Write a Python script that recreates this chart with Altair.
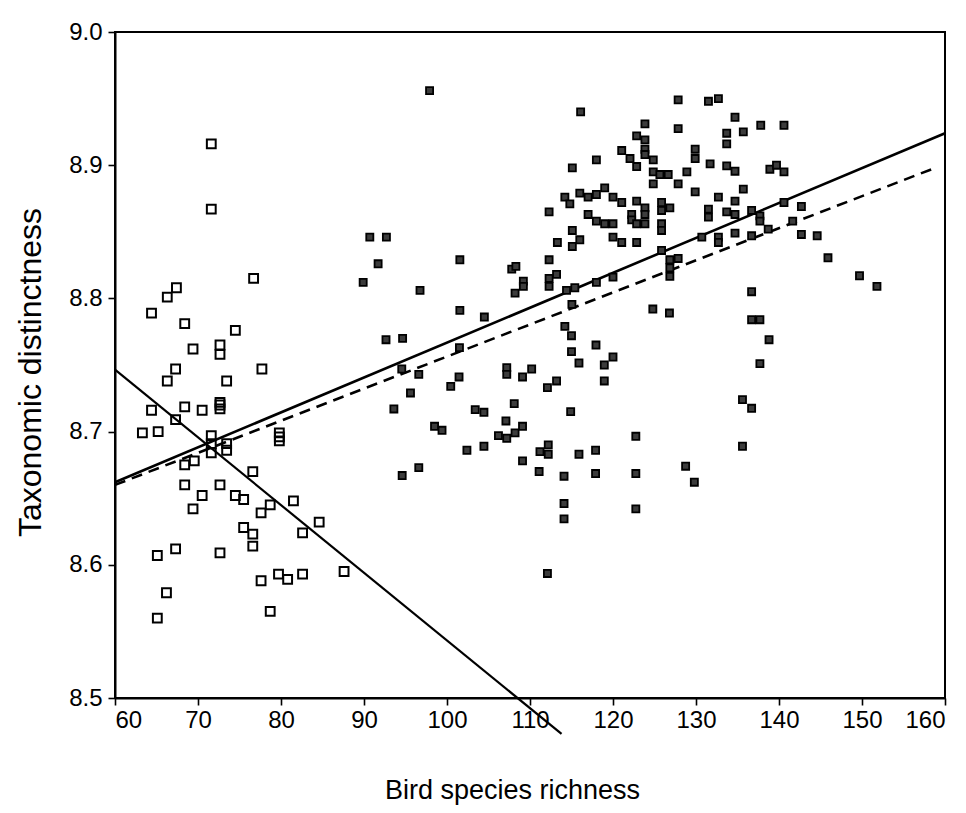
import altair as alt
import pandas as pd

# ---- open squares (low-richness group) ----
open_x = [76.7, 67.4, 66.3, 64.4, 68.4, 74.5, 69.4, 72.65, 72.65, 67.3, 77.7, 66.3, 73.45,
          64.4, 68.4, 70.5, 72.65, 72.65, 72.65, 67.3, 63.3, 65.2, 71.6, 71.6, 71.6, 73.45,
          73.45, 79.8, 79.8, 79.8, 69.55, 68.4, 76.6, 68.4, 72.65, 70.5, 74.5, 75.5, 69.4,
          78.7, 77.6, 81.5, 84.6, 75.5, 76.6, 82.6, 76.6, 67.3, 65.1, 72.65, 87.6, 77.6,
          79.7, 80.8, 82.6, 66.2, 65.1, 78.7, 71.6, 71.6]
open_y = [8.815, 8.808, 8.801, 8.789, 8.781, 8.776, 8.762, 8.765, 8.758, 8.747, 8.747, 8.738, 8.738,
          8.716, 8.7185, 8.716, 8.722, 8.720, 8.717, 8.709, 8.699, 8.700, 8.697, 8.691, 8.684, 8.691,
          8.686, 8.699, 8.696, 8.693, 8.678, 8.675, 8.670, 8.660, 8.660, 8.652, 8.652, 8.649, 8.642,
          8.645, 8.639, 8.648, 8.632, 8.628, 8.623, 8.624, 8.614, 8.612, 8.607, 8.609, 8.595, 8.588,
          8.593, 8.589, 8.593, 8.579, 8.560, 8.565, 8.916, 8.867]

# ---- filled squares (high-richness group) ----
filled_x = [89.9, 90.7, 92.7, 91.7, 92.65, 94.65, 94.55, 93.6, 94.6, 96.75, 95.6, 96.6, 96.6,
            97.9, 98.5, 99.4, 100.45, 101.45, 101.55, 101.55, 101.5, 102.4, 103.4, 104.45, 104.45,
            104.5, 106.2, 107.2, 108.2, 107.1, 107.2, 107.2, 108.1, 107.8, 108.3, 108.2, 109.2,
            109.2, 109.1, 109.1, 109.1, 110.2, 111.1, 111.2, 112.2, 112.2, 112.1, 113.2, 112.1,
            112.3, 112.3, 112.3, 112.3, 113.2, 113.3, 114.2, 114.8, 116.0, 117.0, 115.1, 116.1,
            115.1, 116.0, 115.1, 114.4, 115.4, 115.05, 114.2, 115.0, 115.0, 115.9, 114.9, 115.9,
            114.1, 114.1, 114.1, 117.0, 118.0, 118.0, 119.0, 120.0, 121.05, 118.0, 119.0, 120.0,
            120.0, 121.05, 118.0, 120.0, 117.95, 120.0, 118.95, 118.95, 117.9, 117.9, 121.05,
            122.05, 122.85, 122.85, 122.85, 122.25, 122.25, 122.85, 122.85, 122.75, 122.75, 122.75,
            123.85, 123.85, 123.85, 123.85, 123.85, 123.85, 123.85, 124.85, 124.85, 124.85, 125.65,
            126.65, 127.85, 125.85, 126.85, 125.85, 125.85, 125.85, 125.85, 126.85, 127.85, 126.85,
            126.85, 124.8, 126.8, 127.85, 127.85, 128.9, 128.75, 129.8, 129.9, 129.9, 129.9, 130.7,
            131.5, 132.7, 131.7, 131.5, 131.5, 132.7, 132.7, 132.7, 133.7, 133.7, 133.7, 133.7,
            134.7, 134.7, 134.7, 134.7, 134.7, 135.7, 135.7, 136.7, 137.7, 137.7, 136.7, 135.6,
            136.7, 135.6, 136.7, 136.7, 137.7, 137.7, 138.8, 137.8, 138.7, 138.9, 139.7, 140.6,
            140.6, 140.6, 141.65, 142.7, 142.7, 144.6, 145.9, 149.7, 151.8]
filled_y = [8.812, 8.846, 8.846, 8.826, 8.769, 8.770, 8.747, 8.717, 8.667, 8.806, 8.729, 8.743, 8.673,
            8.956, 8.704, 8.701, 8.734, 8.741, 8.829, 8.791, 8.763, 8.686, 8.7165, 8.7145, 8.689,
            8.786, 8.697, 8.695, 8.699, 8.708, 8.748, 8.743, 8.721, 8.822, 8.824, 8.804, 8.813,
            8.809, 8.741, 8.704, 8.678, 8.747, 8.670, 8.685, 8.690, 8.683, 8.733, 8.738, 8.5935,
            8.865, 8.829, 8.815, 8.809, 8.818, 8.842, 8.876, 8.871, 8.879, 8.876, 8.898, 8.940,
            8.851, 8.844, 8.839, 8.806, 8.808, 8.7955, 8.779, 8.772, 8.760, 8.7515, 8.715, 8.683,
            8.6665, 8.646, 8.6345, 8.863, 8.904, 8.878, 8.883, 8.876, 8.872, 8.858, 8.856, 8.856,
            8.846, 8.842, 8.812, 8.816, 8.765, 8.756, 8.750, 8.738, 8.686, 8.6685, 8.911,
            8.905, 8.899, 8.922, 8.873, 8.863, 8.859, 8.856, 8.842, 8.6965, 8.6685, 8.642,
            8.931, 8.919, 8.912, 8.908, 8.868, 8.863, 8.856, 8.904, 8.895, 8.886, 8.893,
            8.893, 8.886, 8.872, 8.868, 8.866, 8.856, 8.851, 8.836, 8.829, 8.830, 8.823,
            8.8165, 8.792, 8.789, 8.949, 8.9275, 8.895, 8.674, 8.662, 8.912, 8.905, 8.880, 8.846,
            8.948, 8.950, 8.901, 8.867, 8.861, 8.876, 8.846, 8.842, 8.924, 8.916, 8.8995, 8.865,
            8.936, 8.8955, 8.873, 8.863, 8.849, 8.925, 8.882, 8.866, 8.862, 8.858, 8.847, 8.724,
            8.7175, 8.689, 8.805, 8.784, 8.784, 8.751, 8.769, 8.930, 8.852, 8.897, 8.900, 8.895,
            8.930, 8.872, 8.858, 8.869, 8.848, 8.847, 8.8305, 8.817, 8.809]

# ---- fitted lines: end points ----
all_line_x = [60, 160]
all_line_y = [8.662, 8.924]
dash_line_x = [60, 158.4]
dash_line_y = [8.660, 8.897]
open_line_x = [60, 113.8]
open_line_y = [8.7465, 8.473]

x_ticks = [60, 70, 80, 90, 100, 110, 120, 130, 140, 150, 160]
y_ticks = [8.5, 8.6, 8.7, 8.8, 8.9, 9.0]

FONT = "Liberation Sans"

df_open = pd.DataFrame({"x": open_x, "y": open_y})
df_filled = pd.DataFrame({"x": filled_x, "y": filled_y})
df_all = pd.DataFrame({"x": all_line_x, "y": all_line_y})
df_dash = pd.DataFrame({"x": dash_line_x, "y": dash_line_y})
df_oline = pd.DataFrame({"x": open_line_x, "y": open_line_y})

xs = alt.Scale(domain=[60, 160], nice=False, zero=False)
ys = alt.Scale(domain=[8.5, 9.0], nice=False, zero=False)

x_axis = alt.Axis(title="Bird species richness", values=x_ticks, format="d",
                  titleX=397, titleY=92, titleAlign="center", titleBaseline="middle",
                  titleFontSize=27, titleFontWeight="normal", labelFontSize=24,
                  tickSize=7, labelPadding=3)
y_axis = alt.Axis(title="Taxonomic distinctness", values=y_ticks, format=".1f",
                  titleX=-85, titleY=340, titleAngle=270, titleAlign="center",
                  titleBaseline="middle", titleFontSize=32, titleFontWeight="normal",
                  labelFontSize=24, tickSize=7, labelPadding=6)

X = alt.X("x:Q", scale=xs, axis=x_axis)
Y = alt.Y("y:Q", scale=ys, axis=y_axis)

line_all = alt.Chart(df_all).mark_line(color="black", strokeWidth=2.6, clip=False).encode(x=X, y=Y)
line_dash = alt.Chart(df_dash).mark_line(color="black", strokeWidth=2.6, strokeDash=[11, 7],
                                         clip=False).encode(x=X, y=Y)
line_open = alt.Chart(df_oline).mark_line(color="black", strokeWidth=2.2, clip=False).encode(x=X, y=Y)

pts_open = alt.Chart(df_open).mark_point(shape="square", filled=False, stroke="black",
                                         strokeWidth=2, size=78, opacity=1).encode(x=X, y=Y)
pts_filled = alt.Chart(df_filled).mark_point(shape="square", filled=True, fill="#3c3c3c",
                                             stroke="#000000", strokeWidth=1.8, size=50,
                                             opacity=1).encode(x=X, y=Y)

chart = alt.layer(line_all, line_dash, line_open, pts_open, pts_filled).properties(
    width=830, height=666,
    autosize=alt.AutoSizeParams(type="none"),
    padding={"left": 115, "top": 32, "right": 21, "bottom": 115},
    background="white",
).configure_view(
    stroke="black", strokeWidth=2
).configure_axis(
    grid=False, domainColor="black", domainWidth=2, tickColor="black", tickWidth=1.6,
    labelColor="black", titleColor="black", labelFont=FONT, titleFont=FONT
)

chart.save("out.html", embed_options={"renderer": "svg", "actions": False})
